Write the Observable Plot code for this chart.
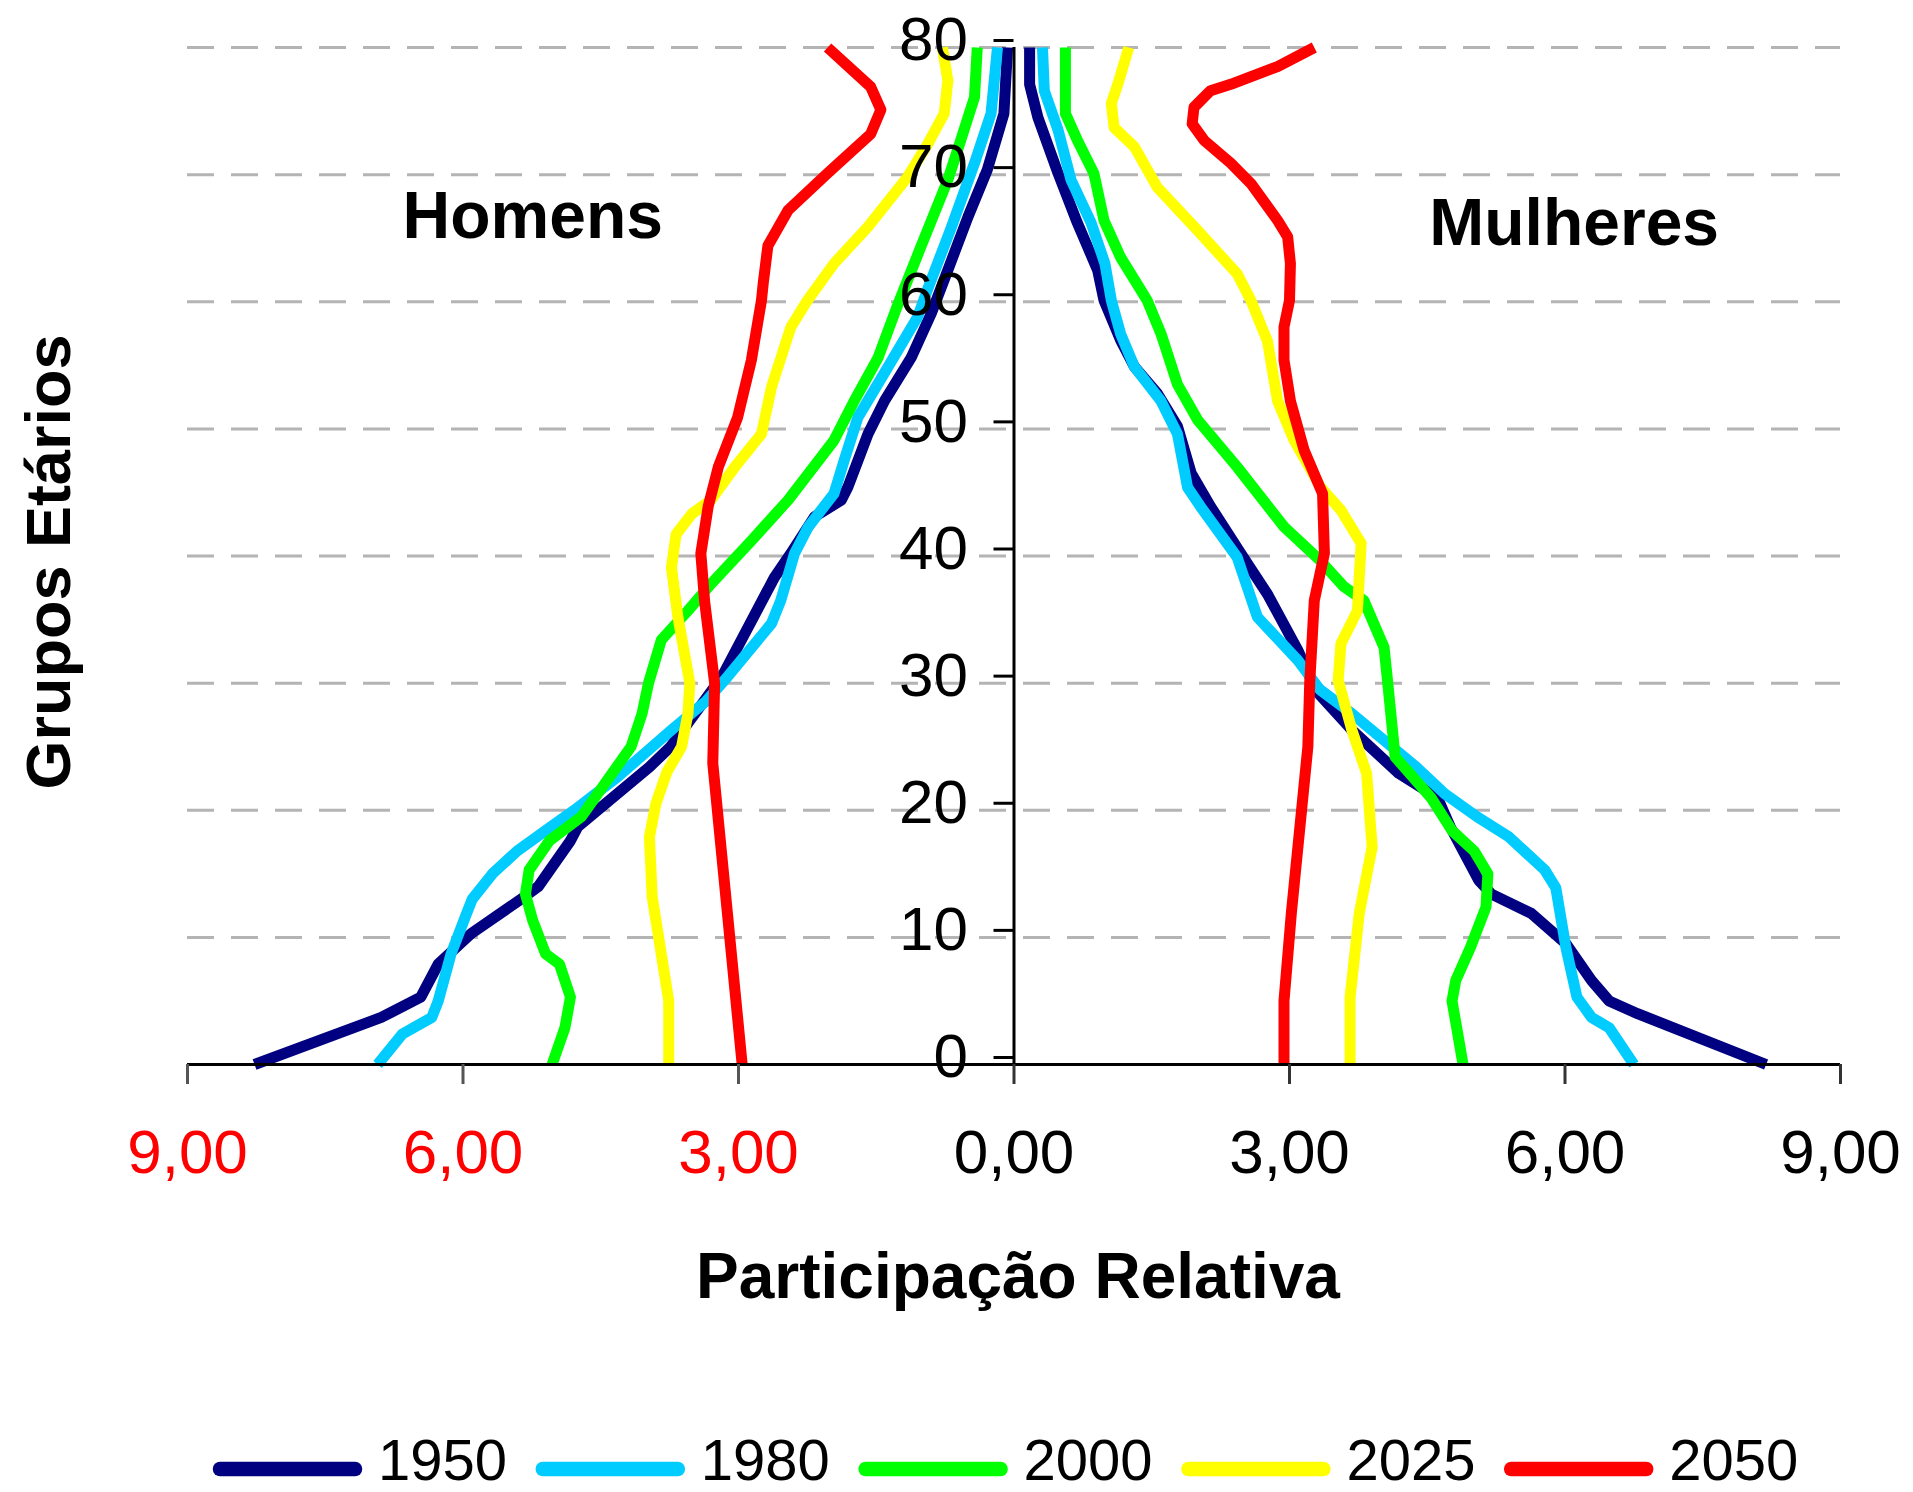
<!DOCTYPE html>
<html>
<head>
<meta charset="utf-8">
<script src="https://cdn.jsdelivr.net/npm/d3@7"></script>
<script src="https://cdn.jsdelivr.net/npm/@observablehq/plot@0.6"></script>
<style>
  html, body { margin: 0; padding: 0; background: #fff; }
  #chart svg, #legend svg { display: block; }
</style>
</head>
<body>
<div id="chart"></div>
<div id="legend"></div>
<script>
// ---- Data (age group, relative participation %) ----
const years = ["1950", "1980", "2000", "2025", "2050"];
const colors = ["#000080", "#00CCFF", "#00FF00", "#FFFF00", "#FF0000"];

// Homens (men) — plotted to the left
const men1950 = [[0,8.27],[3.7,6.89],[5.3,6.46],[7.9,6.27],[10.3,5.91],[13.2,5.33],[14.0,5.18],[17.6,4.83],[18.7,4.75],[23.4,3.97],[25.0,3.74],[30.5,3.18],[38.3,2.61],[40.2,2.43],[43.1,2.17],[44.4,1.88],[45.4,1.81],[49.6,1.59],[52.2,1.41],[55.6,1.12],[59.1,0.90],[62.5,0.72],[66.7,0.50],[70.4,0.29],[74.8,0.11],[80,0.07]];
const men1980 = [[0,6.93],[2.4,6.66],[3.7,6.34],[5.0,6.27],[8.7,6.13],[11.9,5.96],[13.0,5.90],[15.0,5.68],[16.8,5.41],[18.4,5.10],[20.0,4.79],[22.6,4.32],[26.5,3.70],[28.6,3.35],[30.5,3.12],[34.7,2.64],[36.5,2.54],[40.2,2.39],[42.3,2.24],[44.9,1.96],[47.5,1.85],[50.9,1.70],[54.9,1.37],[58.8,1.05],[61.0,0.94],[65.7,0.69],[70.9,0.43],[74.8,0.25],[80,0.18]];
const men2000 = [[0,5.03],[2.9,4.89],[5.3,4.83],[7.9,4.95],[8.7,5.10],[11.3,5.24],[13.4,5.32],[15.3,5.28],[17.6,5.06],[19.5,4.71],[25.0,4.17],[27.6,4.05],[30.0,3.98],[33.4,3.84],[35.7,3.55],[37.8,3.30],[41.2,2.86],[44.4,2.46],[49.1,1.96],[52.2,1.74],[55.6,1.48],[59.5,1.28],[64.4,1.01],[69.6,0.72],[72.7,0.58],[76.1,0.43],[80,0.40]];
const men2025 = [[0,3.76],[5.0,3.76],[13.2,3.94],[17.9,3.97],[20.5,3.90],[23.0,3.78],[25.0,3.62],[27.6,3.55],[30.0,3.53],[35.2,3.66],[39.1,3.73],[41.7,3.68],[43.3,3.51],[44.4,3.30],[47.0,3.04],[49.6,2.75],[53.3,2.64],[58.0,2.43],[60.1,2.25],[63.0,1.96],[65.9,1.59],[69.8,1.16],[72.4,0.94],[74.8,0.76],[77.4,0.72],[80,0.78]];
const men2050 = [[0,2.96],[23.7,3.28],[30.0,3.26],[36.5,3.37],[40.2,3.41],[43.9,3.33],[47.0,3.22],[50.9,3.01],[55.4,2.86],[60.1,2.75],[61.5,2.73],[64.4,2.68],[67.2,2.46],[70.1,2.03],[73.2,1.56],[75.1,1.45],[76.9,1.56],[80,2.03]];

// Mulheres (women) — plotted to the right
const women1950 = [[0,8.19],[4.0,6.79],[5.0,6.48],[6.6,6.29],[9.5,6.01],[11.9,5.63],[13.4,5.20],[14.5,5.06],[18.7,4.75],[21.0,4.61],[22.9,4.19],[26.3,3.68],[29.4,3.29],[32.6,3.09],[37.0,2.76],[40.2,2.47],[43.9,2.14],[46.5,1.93],[50.2,1.78],[52.8,1.56],[54.9,1.31],[57.0,1.16],[60.1,0.98],[62.5,0.91],[66.2,0.69],[70.1,0.48],[74.5,0.26],[77.1,0.17],[80,0.17]];
const women1980 = [[0,6.75],[2.9,6.48],[3.7,6.29],[5.3,6.13],[9.2,6.01],[13.9,5.90],[15.3,5.78],[17.9,5.39],[19.5,5.04],[21.3,4.69],[23.4,4.38],[27.6,3.68],[29.5,3.33],[31.8,3.09],[35.2,2.65],[39.9,2.43],[43.9,2.03],[45.4,1.89],[49.6,1.78],[52.2,1.60],[54.9,1.31],[57.5,1.16],[60.1,1.06],[63.0,0.99],[66.2,0.84],[69.6,0.62],[73.5,0.48],[76.6,0.33],[80,0.31]];
const women2000 = [[0,4.89],[5.0,4.77],[6.6,4.81],[9.2,4.97],[12.4,5.14],[15.0,5.16],[16.8,5.01],[18.4,4.77],[21.0,4.54],[24.2,4.15],[30.0,4.07],[32.8,4.03],[36.5,3.81],[37.6,3.59],[39.6,3.34],[42.3,2.94],[47.0,2.43],[50.7,2.00],[53.5,1.78],[57.5,1.60],[60.1,1.45],[63.5,1.16],[66.4,0.98],[70.1,0.87],[72.7,0.69],[74.8,0.56],[80,0.56]];
const women2025 = [[0,3.66],[5.3,3.66],[11.9,3.76],[17.1,3.90],[22.9,3.84],[26.3,3.68],[30.2,3.53],[33.1,3.56],[35.7,3.74],[41.0,3.78],[43.6,3.56],[45.4,3.34],[49.1,3.05],[52.2,2.87],[56.9,2.76],[60.1,2.58],[62.2,2.43],[65.6,2.00],[69.0,1.56],[72.2,1.31],[73.7,1.09],[75.6,1.06],[77.1,1.13],[80,1.25]];
const women2050 = [[0,2.94],[5.0,2.94],[11.9,3.02],[25.0,3.20],[30.0,3.22],[36.5,3.27],[40.2,3.38],[44.9,3.36],[48.3,3.16],[52.2,3.01],[55.4,2.94],[58.0,2.94],[60.1,3.00],[63.0,3.01],[65.1,2.98],[66.4,2.87],[69.3,2.58],[70.9,2.36],[72.7,2.07],[74.0,1.94],[75.3,1.96],[76.6,2.14],[77.1,2.36],[78.5,2.87],[80,3.27]];

// Ticks and labels
const yTicks = [0, 10, 20, 30, 40, 50, 60, 70, 80];
const yGrid = [10, 20, 30, 40, 50, 60, 70, 80];
const xTicksMen = [-9, -6, -3];
const xTicksWomen = [0, 3, 6, 9];
const panelLabels = [
  {label: "Homens", x: -5.24, y: 66.7},
  {label: "Mulheres", x: 6.10, y: 66.1}
];
const yTitle = "Grupos Etários";
const xTitle = "Participação Relativa";

// ---- Build table ----
const menSeries = [men1950, men1980, men2000, men2025, men2050];
const womenSeries = [women1950, women1980, women2000, women2025, women2050];
const rows = [];
years.forEach((yr, i) => {
  menSeries[i].forEach(([age, v]) => rows.push({year: yr, key: yr + "-H", age, value: -v}));
  womenSeries[i].forEach(([age, v]) => rows.push({year: yr, key: yr + "-M", age, value: v}));
});

const fmt = d => Math.abs(d).toFixed(2).replace(".", ",");
const FONT = "'Liberation Sans', Arial, Helvetica, sans-serif";

const W = 1913, H = 1420;
const mL = 187, mR = 73, mT = 47, mB = 356;
const axisShift = (W - mL - mR) / 2; // moves the y axis to x = 0

const chart = Plot.plot({
  width: W,
  height: H,
  marginLeft: mL,
  marginRight: mR,
  marginTop: mT,
  marginBottom: mB,
  x: {domain: [-9, 9], label: null},
  y: {domain: [0, 80], label: null},
  color: {domain: years, range: colors},
  style: {fontFamily: FONT, background: "#fff", overflow: "visible", color: "#000"},
  marks: [
    Plot.ruleY(yGrid, {stroke: "#b4b4b4", strokeWidth: 3, strokeDasharray: "27 17"}),
    Plot.line(rows, {x: "value", y: "age", z: "key", stroke: "year", strokeWidth: 11,
      strokeLinejoin: "round", strokeLinecap: "butt", curve: "linear"}),
    Plot.ruleY([0], {stroke: "#000", strokeWidth: 3}),
    Plot.ruleX([0], {stroke: "#000", strokeWidth: 3}),
    Plot.axisX(xTicksMen, {anchor: "bottom", tickSize: 20, tickPadding: 44, tickFormat: fmt,
      fontSize: 62, fill: "#FF0000", stroke: "#555", strokeWidth: 3, label: null}),
    Plot.axisX(xTicksWomen, {anchor: "bottom", tickSize: 20, tickPadding: 44, tickFormat: fmt,
      fontSize: 62, fill: "#000", stroke: "#333", strokeWidth: 3, label: null}),
    Plot.axisY(yTicks, {anchor: "left", dx: axisShift, tickSize: 20, tickPadding: 26, dy: -7,
      fontSize: 62, fill: "#000", stroke: "#000", strokeWidth: 3, tickFormat: d => String(d), label: null}),
    Plot.text(panelLabels, {x: "x", y: "y", text: "label", fontSize: 66, fontWeight: "bold", fill: "#000"}),
    Plot.text([yTitle], {text: d => d, frameAnchor: "left", textAnchor: "middle", lineAnchor: "middle",
      rotate: -90, dx: -138, dy: 6, fontSize: 63, fontWeight: "bold", fill: "#000"}),
    Plot.text([xTitle], {text: d => d, frameAnchor: "bottom", textAnchor: "middle", lineAnchor: "middle",
      dx: 4, dy: 213, fontSize: 64, fontWeight: "bold", fill: "#000"})
  ]
});
document.getElementById("chart").appendChild(chart);

// ---- Legend (below the plot) ----
const legendH = 72;
const legend = d3.select("#legend").append("svg")
  .attr("width", W).attr("height", legendH)
  .style("font-family", FONT).style("background", "#fff");
const item = legend.selectAll("g").data(years).join("g")
  .attr("transform", (d, i) => `translate(${213 + i * 322.8},0)`);
item.append("line")
  .attr("x1", 7).attr("x2", 142).attr("y1", 49).attr("y2", 49)
  .attr("stroke", (d, i) => colors[i]).attr("stroke-width", 14.5).attr("stroke-linecap", "round");
item.append("text")
  .attr("x", 165).attr("y", 60).attr("font-size", 58).attr("fill", "#000")
  .text(d => d);
</script>
</body>
</html>
